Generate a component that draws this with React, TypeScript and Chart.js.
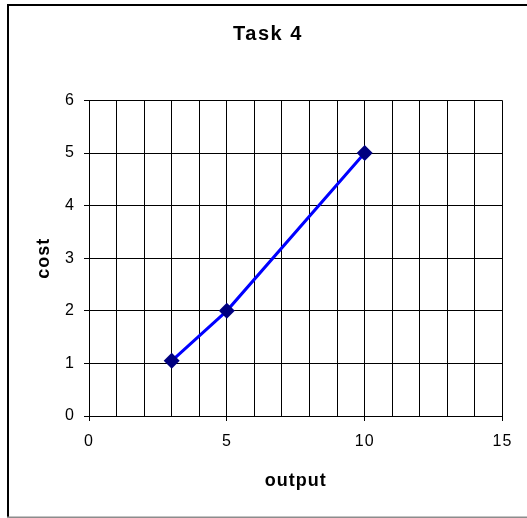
import React, { useEffect, useRef } from 'react';
import { Chart, registerables } from 'chart.js';
Chart.register(...registerables);

const titleText = 'Task 4';
const xTitle = 'output';
const yTitle = 'cost';
const outputValues = [3, 5, 10];
const costValues = [1.05, 2, 5];
const xMin = 0;
const xMax = 15;
const xStep = 1;
const xLabelEvery = 5;
const yMin = 0;
const yMax = 6;
const yStep = 1;

const FONT = '"Liberation Sans", Arial, sans-serif';

export default function App() {
  const ref = useRef<HTMLCanvasElement>(null);
  useEffect(() => {
    if (!ref.current) return;
    const framePlugin = {
      id: 'frame',
      beforeDraw(chart: any) {
        const ctx = chart.ctx;
        ctx.save();
        ctx.fillStyle = '#fff';
        ctx.fillRect(0, 0, chart.width, chart.height);
        ctx.fillStyle = '#000';
        ctx.fillRect(7, 4, 520, 2);
        ctx.fillRect(7, 4, 2, 513);
        ctx.fillStyle = '#8c8c8c';
        ctx.fillRect(7, 516.5, 520, 1.5);
        ctx.restore();
        ctx.letterSpacing = '1px';
      },
      afterDraw(chart: any) {
        const ctx = chart.ctx;
        ctx.save();
        ctx.fillStyle = '#000';
        ctx.font = `bold 20px ${FONT}`;
        ctx.letterSpacing = '1.5px';
        ctx.textAlign = 'center';
        ctx.textBaseline = 'alphabetic';
        ctx.fillText(titleText, 268, 40);
        ctx.restore();
        ctx.letterSpacing = '0px';
      },
    };
    const chart = new Chart(ref.current, {
      type: 'scatter',
      data: {
        datasets: [
          {
            data: outputValues.map((x, i) => ({ x, y: costValues[i] })),
            showLine: true,
            borderColor: '#0000ff',
            borderWidth: 3,
            pointStyle: 'rectRot',
            pointRadius: 8,
            pointBackgroundColor: '#000080',
            pointBorderColor: '#000080',
            pointBorderWidth: 0,
          },
        ],
      },
      options: {
        responsive: false,
        animation: false,
        layout: { padding: { left: 0, right: 24.5, top: 100.5, bottom: 0 } },
        plugins: {
          legend: { display: false },
          tooltip: { enabled: false },
          title: { display: false },
        },
        scales: {
          x: {
            type: 'linear',
            position: 'bottom',
            min: xMin,
            max: xMax,
            afterFit: (s: any) => {
              s.height = 102;
            },
            ticks: {
              stepSize: xStep,
              autoSkip: false,
              maxRotation: 0,
              padding: 11,
              color: '#000',
              font: { family: FONT, size: 16 },
              callback: (v: any) => (Number(v) % xLabelEvery === 0 ? String(v) : ''),
            },
            grid: {
              color: '#000',
              lineWidth: 1,
              tickLength: 5,
              tickColor: (c: any) =>
                c.tick && c.tick.value % xLabelEvery === 0 ? '#000' : 'rgba(0,0,0,0)',
            },
            border: { color: '#000', width: 1 },
            title: {
              display: true,
              text: xTitle,
              color: '#000',
              font: { family: FONT, size: 18, weight: 'bold' },
              padding: { top: 0, bottom: 26 },
            },
          },
          y: {
            type: 'linear',
            min: yMin,
            max: yMax,
            afterFit: (s: any) => {
              s.width = 89;
            },
            ticks: {
              stepSize: yStep,
              padding: 9,
              color: '#000',
              font: { family: FONT, size: 16 },
            },
            grid: {
              color: '#000',
              lineWidth: 1,
              tickLength: 5,
              tickColor: '#000',
            },
            border: { color: '#000', width: 1 },
            title: {
              display: true,
              text: yTitle,
              color: '#000',
              font: { family: FONT, size: 18, weight: 'bold' },
              padding: { top: 33, bottom: 0 },
            },
          },
        },
      },
      plugins: [framePlugin],
    } as any);
    return () => chart.destroy();
  }, []);
  return (
    <div style={{ position: 'fixed', left: 0, top: 0, width: 527, height: 518 }}>
      <canvas ref={ref} width={527} height={518} style={{ display: 'block' }} />
    </div>
  );
}
